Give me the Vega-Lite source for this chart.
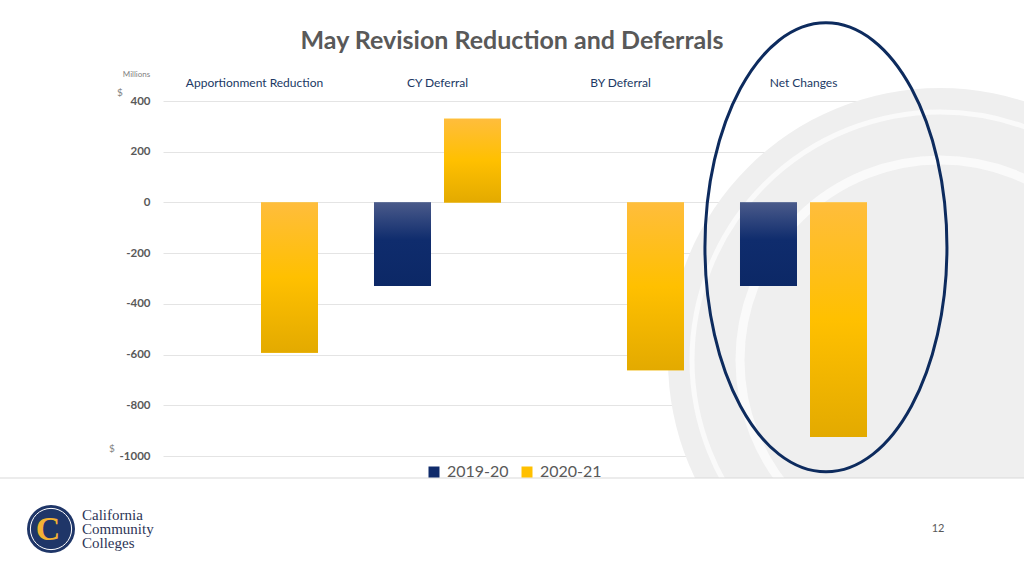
{
  "$schema": "https://vega.github.io/schema/vega-lite/v6.json",
  "width": 732,
  "height": 355,
  "autosize": {"type": "none"},
  "padding": {"left": 163, "top": 101, "right": 129, "bottom": 120},
  "background": "white",
  "config": {"font": "Lato", "view": {"stroke": null}},
  "title": {
    "text": "May Revision Reduction and Deferrals",
    "font": "Lato",
    "fontSize": 25,
    "fontWeight": "bold",
    "color": "#595959",
    "anchor": "middle",
    "frame": "group",
    "dx": -17,
    "offset": -37
  },
  "datasets": {
    "budget": [
      {"category": "Apportionment Reduction", "series": "2020-21", "value": -593},
      {"category": "CY Deferral", "series": "2019-20", "value": -330},
      {"category": "CY Deferral", "series": "2020-21", "value": 330},
      {"category": "BY Deferral", "series": "2020-21", "value": -662},
      {"category": "Net Changes", "series": "2019-20", "value": -330},
      {"category": "Net Changes", "series": "2020-21", "value": -925}
    ]
  },
  "layer": [
    {
      "data": {"values": [{}]},
      "layer": [
        {
          "mark": {"type": "point", "shape": "circle", "filled": true, "color": "#efefef", "opacity": 1, "size": 295936},
          "encoding": {
            "x": {"datum": 777, "type": "quantitative", "scale": {"domain": [0, 732], "nice": false, "zero": false}, "axis": null},
            "y": {"datum": 259, "type": "quantitative", "scale": {"domain": [0, 355], "nice": false, "zero": false, "reverse": true}, "axis": null}
          }
        },
        {
          "mark": {"type": "point", "shape": "circle", "filled": false, "stroke": "#fafafa", "strokeWidth": 5, "opacity": 1, "size": 246016},
          "encoding": {
            "x": {"datum": 777, "type": "quantitative"},
            "y": {"datum": 259, "type": "quantitative"}
          }
        },
        {
          "mark": {"type": "point", "shape": "circle", "filled": false, "stroke": "#fafafa", "strokeWidth": 9, "opacity": 1, "size": 160000},
          "encoding": {
            "x": {"datum": 777, "type": "quantitative"},
            "y": {"datum": 259, "type": "quantitative"}
          }
        },
        {
          "mark": {"type": "rect", "color": "#ffffff"},
          "encoding": {
            "x": {"datum": 490, "type": "quantitative"},
            "x2": {"datum": 861},
            "y": {"datum": 377, "type": "quantitative"},
            "y2": {"datum": 475}
          }
        },
        {
          "mark": {"type": "rule", "color": "#d9d9d9", "strokeWidth": 1},
          "encoding": {
            "x": {"datum": -163, "type": "quantitative"},
            "x2": {"datum": 861},
            "y": {"datum": 377, "type": "quantitative"}
          }
        },
        {
          "mark": {"type": "text", "text": "California\nCommunity\nColleges", "lineBreak": "\n", "lineHeight": 14, "font": "Liberation Serif", "fontSize": 15, "color": "#2e3557", "align": "left", "baseline": "alphabetic"},
          "encoding": {
            "x": {"datum": -81, "type": "quantitative"},
            "y": {"datum": 419, "type": "quantitative"}
          }
        },
        {
          "mark": {"type": "point", "shape": "circle", "filled": true, "color": "#1f3668", "opacity": 1, "size": 2304},
          "encoding": {
            "x": {"datum": -112, "type": "quantitative"},
            "y": {"datum": 428, "type": "quantitative"}
          }
        },
        {
          "mark": {"type": "point", "shape": "circle", "filled": false, "stroke": "#ffffff", "strokeWidth": 1, "opacity": 1, "size": 1700},
          "encoding": {
            "x": {"datum": -112, "type": "quantitative"},
            "y": {"datum": 428, "type": "quantitative"}
          }
        },
        {
          "mark": {"type": "text", "text": "C", "font": "Liberation Serif", "fontWeight": "bold", "fontSize": 34, "color": "#f2b233", "align": "center", "baseline": "middle", "dx": -3},
          "encoding": {
            "x": {"datum": -112, "type": "quantitative"},
            "y": {"datum": 429, "type": "quantitative"}
          }
        },
        {
          "mark": {"type": "text", "text": "12", "fontSize": 11, "color": "#595959", "align": "center", "baseline": "middle"},
          "encoding": {
            "x": {"datum": 775, "type": "quantitative"},
            "y": {"datum": 428, "type": "quantitative"}
          }
        },
        {
          "mark": {"type": "text", "text": "$", "fontSize": 10, "color": "#7f7f7f", "align": "center", "baseline": "middle"},
          "encoding": {
            "x": {"datum": -43, "type": "quantitative"},
            "y": {"datum": -8, "type": "quantitative"}
          }
        },
        {
          "mark": {"type": "text", "text": "$", "fontSize": 10, "color": "#7f7f7f", "align": "center", "baseline": "middle"},
          "encoding": {
            "x": {"datum": -51, "type": "quantitative"},
            "y": {"datum": 348, "type": "quantitative"}
          }
        }
      ]
    },
    {
      "data": {"name": "budget"},
      "layer": [
        {
          "mark": {"type": "bar"},
          "encoding": {
            "x": {
              "field": "category",
              "type": "nominal",
              "scale": {
                "domain": ["Apportionment Reduction", "CY Deferral", "BY Deferral", "Net Changes"],
                "paddingInner": 0.306,
                "paddingOuter": 0.153
              },
              "axis": {
                "orient": "top",
                "title": null,
                "labelAngle": 0,
                "domain": false,
                "ticks": false,
                "labelColor": "#203864",
                "labelFontSize": 12,
                "labelFont": "Lato",
                "labelPadding": 12
              }
            },
            "xOffset": {
              "field": "series",
              "type": "nominal",
              "scale": {"domain": ["2019-20", "2020-21"], "paddingInner": 0.186}
            },
            "y": {
              "field": "value",
              "type": "quantitative",
              "scale": {"domain": [-1000, 400], "nice": false, "zero": false},
              "axis": {
                "orient": "left",
                "values": [-1000, -800, -600, -400, -200, 0, 200, 400],
                "labelExpr": "'' + datum.value",
                "title": "Millions",
                "titleAngle": 0,
                "titleX": -27,
                "titleY": -27,
                "titleAlign": "center",
                "titleBaseline": "middle",
                "titleFontSize": 8,
                "titleFontWeight": "normal",
                "titleColor": "#7f7f7f",
                "domain": false,
                "ticks": false,
                "grid": true,
                "gridColor": "#e4e4e4",
                "labelFontWeight": "bold",
                "labelColor": "#595959",
                "labelFontSize": 11.5,
                "labelPadding": 13
              }
            },
            "color": {
              "field": "series",
              "type": "nominal",
              "scale": {"domain": ["2019-20", "2020-21"], "range": ["#0f2b6b", "#ffc000"]},
              "legend": {
                "orient": "none",
                "legendX": 263,
                "legendY": 363,
                "direction": "horizontal",
                "title": null,
                "symbolType": "square",
                "symbolSize": 121,
                "symbolStrokeWidth": 0,
                "labelFontSize": 16,
                "labelColor": "#595959",
                "labelFont": "Lato",
                "labelOffset": 5,
                "columnSpacing": 17
              }
            }
          }
        },
        {
          "transform": [{"filter": "datum.series == '2019-20'"}],
          "mark": {
            "type": "bar",
            "color": {
              "gradient": "linear", "x1": 0, "y1": 0, "x2": 0, "y2": 1,
              "stops": [
                {"offset": 0, "color": "#4a5a8a"},
                {"offset": 0.45, "color": "#0f2c6d"},
                {"offset": 1, "color": "#0c2866"}
              ]
            }
          },
          "encoding": {
            "x": {"field": "category", "type": "nominal", "scale": {"domain": ["Apportionment Reduction", "CY Deferral", "BY Deferral", "Net Changes"]}},
            "xOffset": {"field": "series", "type": "nominal", "scale": {"domain": ["2019-20", "2020-21"]}},
            "y": {"field": "value", "type": "quantitative", "scale": {"domain": [-1000, 400]}}
          }
        },
        {
          "transform": [{"filter": "datum.series == '2020-21'"}],
          "mark": {
            "type": "bar",
            "color": {
              "gradient": "linear", "x1": 0, "y1": 0, "x2": 0, "y2": 1,
              "stops": [
                {"offset": 0, "color": "#ffbd3c"},
                {"offset": 0.5, "color": "#ffc000"},
                {"offset": 1, "color": "#e3aa00"}
              ]
            }
          },
          "encoding": {
            "x": {"field": "category", "type": "nominal", "scale": {"domain": ["Apportionment Reduction", "CY Deferral", "BY Deferral", "Net Changes"]}},
            "xOffset": {"field": "series", "type": "nominal", "scale": {"domain": ["2019-20", "2020-21"]}},
            "y": {"field": "value", "type": "quantitative", "scale": {"domain": [-1000, 400]}}
          }
        },
        {
          "data": {"values": [{}]},
          "mark": {
            "type": "point",
            "shape": "M -0.439 0 A 0.539 1 0 1 0 0.639 0 A 0.539 1 0 1 0 -0.439 0 Z",
            "filled": false,
            "stroke": "#0d2b5e",
            "strokeWidth": 3,
            "opacity": 1,
            "size": 201601
          },
          "encoding": {
            "x": {"datum": "Net Changes", "type": "nominal", "scale": {"domain": ["Apportionment Reduction", "CY Deferral", "BY Deferral", "Net Changes"]}},
            "y": {"datum": -177, "type": "quantitative", "scale": {"domain": [-1000, 400]}}
          }
        }
      ]
    }
  ],
  "resolve": {"scale": {"x": "independent", "y": "independent"}}
}
